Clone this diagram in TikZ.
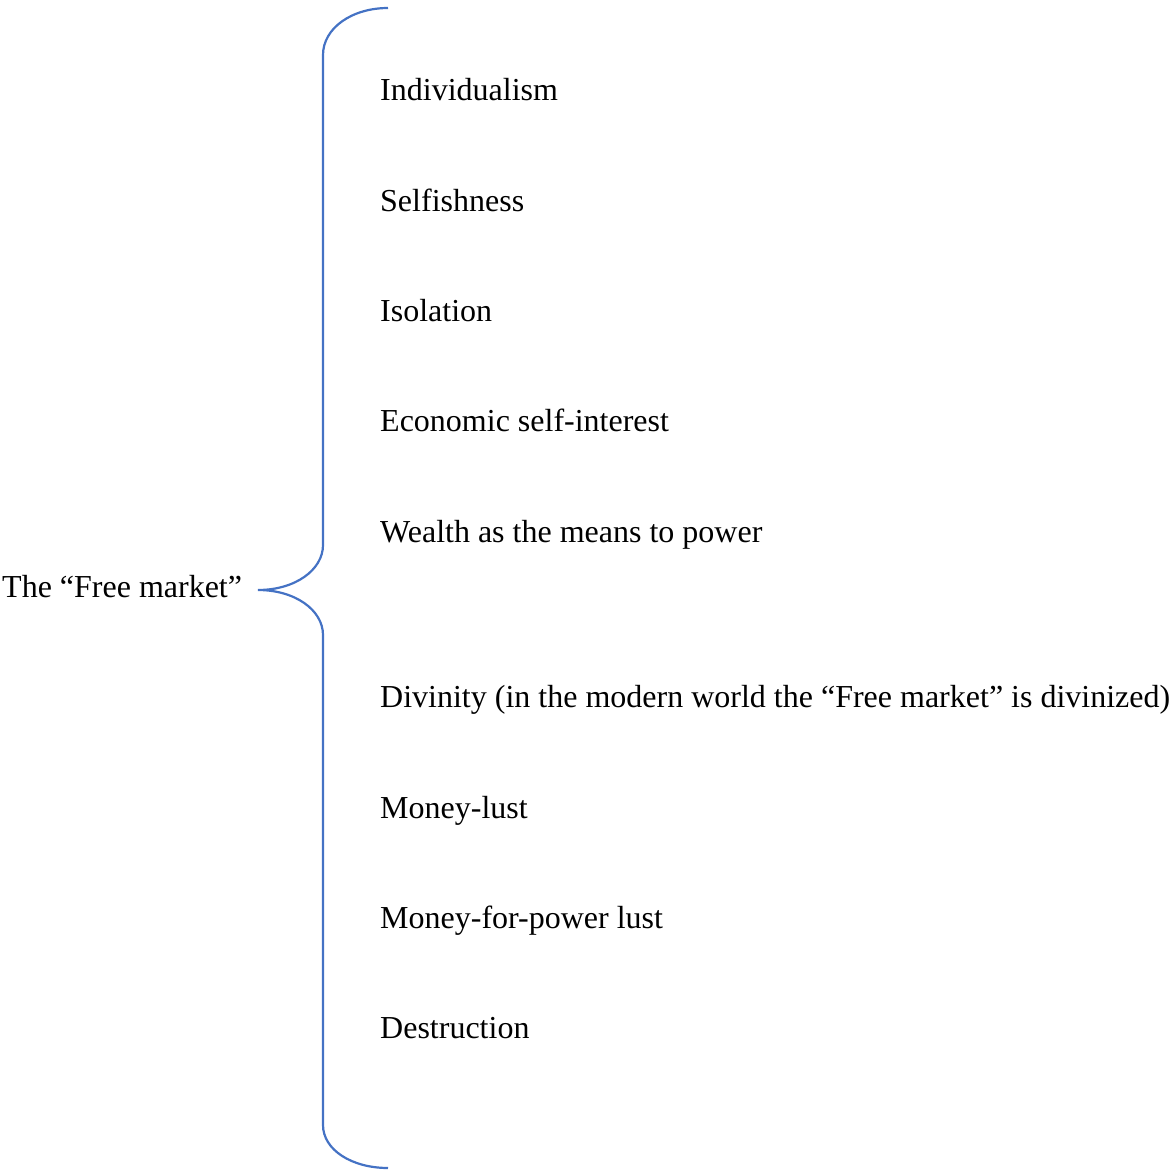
\documentclass[tikz,border=0pt]{standalone}
\usepackage{fontspec}
\setmainfont{Liberation Serif}
\definecolor{bracecol}{HTML}{4472C4}
\begin{document}
\begin{tikzpicture}[x=1pt,y=-1pt,
  item/.style={anchor=base west,inner sep=0pt,font=\fontsize{32}{38}\selectfont},
  bracepath/.style={draw=bracecol,line width=2.2pt}]
\useasboundingbox (0,0) rectangle (1168,1170);
\node[item] (free) at (2,597) {The “Free market”};
\coordinate (tip) at (258,590);
\coordinate (top) at (388,8);
\coordinate (bot) at (388,1168);
\draw[bracepath] (top) .. controls (352,8) and (323,28) .. (323,55)
  -- (323,545) .. controls (323,570) and (295,590) .. (tip)
  .. controls (295,590) and (323,610) .. (323,635)
  -- (323,1125) .. controls (323,1150) and (352,1168) .. (bot);
\node[item] (a) at (380,100) {Individualism};
\node[item] (b) at (380,211) {Selfishness};
\node[item] (c) at (380,321) {Isolation};
\node[item] (d) at (380,431) {Economic self-interest};
\node[item] (e) at (380,542) {Wealth as the means to power};
\node[item] (f) at (380,707) {Divinity (in the modern world the “Free market” is divinized)};
\node[item] (g) at (380,818) {Money-lust};
\node[item] (h) at (380,928) {Money-for-power lust};
\node[item] (i) at (380,1038) {Destruction};
\end{tikzpicture}
\end{document}
